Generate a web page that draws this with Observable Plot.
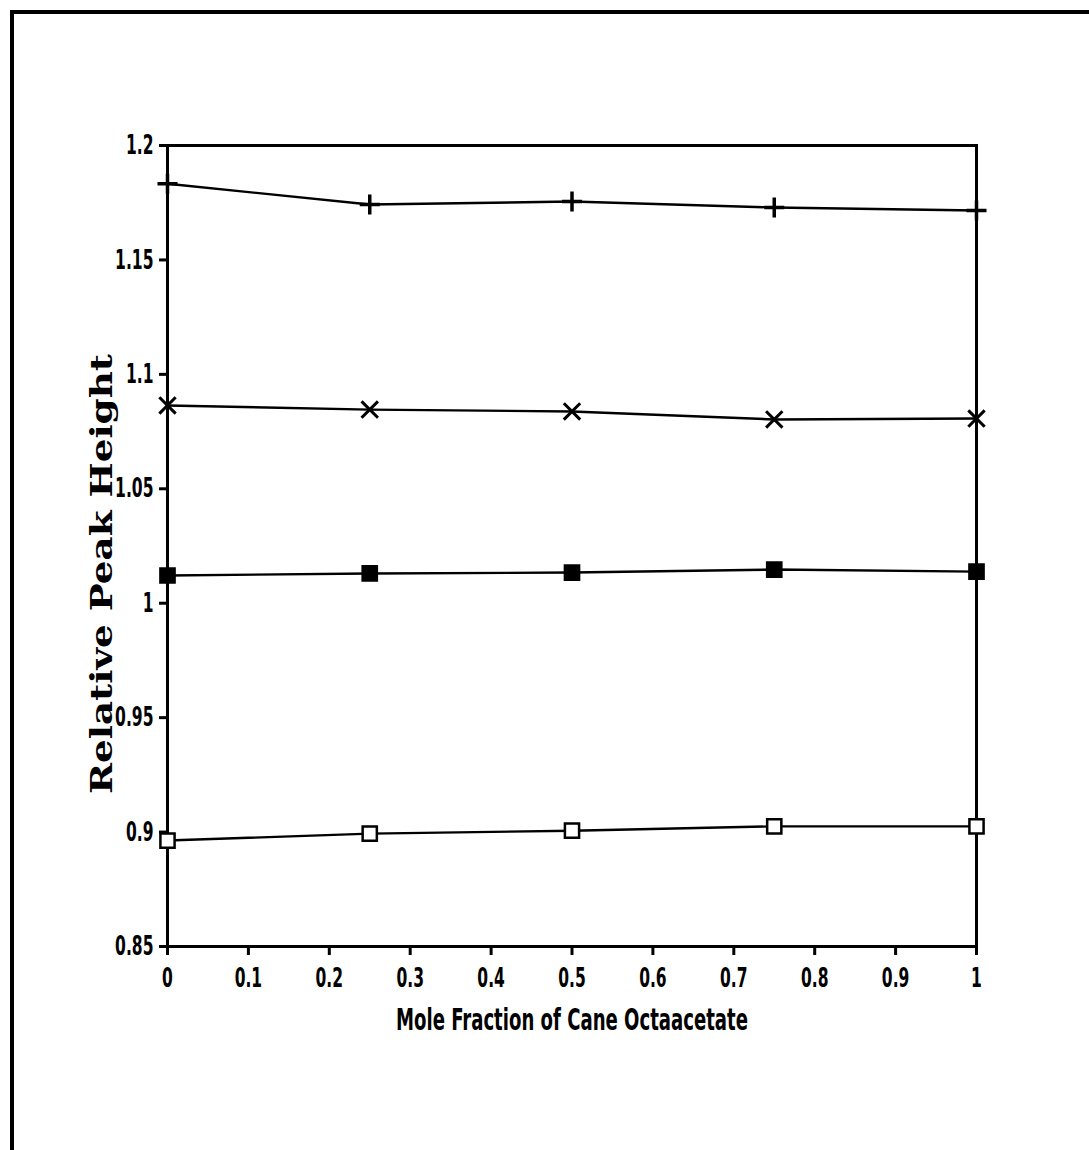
<!DOCTYPE html>
<html>
<head>
<meta charset="utf-8">
<script src="https://cdn.jsdelivr.net/npm/d3@7"></script>
<script src="https://cdn.jsdelivr.net/npm/@observablehq/plot@0.6"></script>
<style>
  html, body { margin: 0; padding: 0; background: #fff; }
  #wrap { position: relative; width: 1089px; height: 1150px; overflow: hidden; }
  #border { position: absolute; left: 10px; top: 10px; width: 1100px; height: 1200px;
            border-top: 4px solid #000; border-left: 4px solid #000; pointer-events: none; }
</style>
</head>
<body>
<div id="wrap"><div id="border"></div></div>
<script>
const moleFraction = [0, 0.25, 0.5, 0.75, 1];
const plusSeries   = [1.1833, 1.1742, 1.1755, 1.1729, 1.1716];
const timesSeries  = [1.0864, 1.0846, 1.0838, 1.0803, 1.0807];
const filledSeries = [1.0121, 1.0130, 1.0134, 1.0147, 1.0138];
const openSeries   = [0.8963, 0.8993, 0.9006, 0.9025, 0.9025];
const xTicks = [0, 0.1, 0.2, 0.3, 0.4, 0.5, 0.6, 0.7, 0.8, 0.9, 1];
const yTicks = [0.85, 0.9, 0.95, 1, 1.05, 1.1, 1.15, 1.2];
const xLabel = "Mole Fraction of Cane Octaacetate";
const yLabel = "Relative Peak Height";

const series = [
  {name: "plus", values: plusSeries, symbol: "plus", fill: "none"},
  {name: "times", values: timesSeries, symbol: "times", fill: "none"},
  {name: "filled", values: filledSeries, symbol: "square", fill: "black"},
  {name: "open", values: openSeries, symbol: "square", fill: "white"}
];
const rows = series.flatMap(s => s.values.map((v, i) => ({series: s.name, x: moleFraction[i], y: v, symbol: s.symbol, fill: s.fill})));

const tickFont = "'Liberation Sans Narrow', 'DejaVu Sans Condensed', 'Liberation Sans', sans-serif";

const chart = Plot.plot({
  width: 1089,
  height: 1150,
  marginLeft: 167,
  marginRight: 113,
  marginTop: 145,
  marginBottom: 204,
  style: {background: "transparent", color: "black"},
  x: {domain: [0, 1]},
  y: {domain: [0.85, 1.2]},
  marks: [
    Plot.axisY({ticks: yTicks, tickSize: 8, tickPadding: 6, strokeWidth: 3, tickFormat: d => String(d),
                fontSize: 27, fontWeight: "bold", fontFamily: tickFont, label: null}),
    Plot.axisX({ticks: xTicks, tickSize: 9, tickPadding: 12, strokeWidth: 3, tickFormat: d => String(d),
                fontSize: 27, fontWeight: "bold", fontFamily: tickFont, label: null}),
    Plot.frame({strokeWidth: 3}),
    Plot.line(rows, {x: "x", y: "y", z: "series", stroke: "black", strokeWidth: 2.4}),
    Plot.dot(rows.filter(d => d.symbol === "plus"), {x: "x", y: "y", symbol: "symbol", r: 6.5, stroke: "black", strokeWidth: 3.5}),
    Plot.dot(rows.filter(d => d.symbol === "times"), {x: "x", y: "y", symbol: "symbol", r: 7.5, stroke: "black", strokeWidth: 3}),
    Plot.dot(rows.filter(d => d.symbol === "square"), {x: "x", y: "y", symbol: "square", r: 8, stroke: "black", strokeWidth: 2.5, fill: "fill"}),
    Plot.text([xLabel], {frameAnchor: "bottom", dy: 74, lineAnchor: "middle", textAnchor: "middle",
                         fontSize: 31, fontWeight: "bold", fontFamily: tickFont, className: "xlab"}),
    Plot.text([yLabel], {frameAnchor: "left", dx: -65, dy: 28, rotate: -90, lineAnchor: "middle", textAnchor: "middle",
                         fontSize: 29, fontWeight: "bold", fontFamily: "'DejaVu Serif', serif", className: "ylab"})
  ]
});
document.getElementById("wrap").prepend(chart);

// condense tick labels like the original typeface
chart.querySelectorAll('g[aria-label="y-axis tick label"] text, g[aria-label="x-axis tick label"] text').forEach(t => {
  const len = t.getComputedTextLength();
  t.setAttribute("textLength", (len * 0.64).toFixed(1));
  t.setAttribute("lengthAdjust", "spacingAndGlyphs");
});
chart.querySelectorAll('.xlab text').forEach(t => {
  t.setAttribute("textLength", 352);
  t.setAttribute("lengthAdjust", "spacingAndGlyphs");
});
chart.querySelectorAll('.ylab text').forEach(t => {
  t.setAttribute("textLength", 440);
  t.setAttribute("lengthAdjust", "spacingAndGlyphs");
});
</script>
</body>
</html>
